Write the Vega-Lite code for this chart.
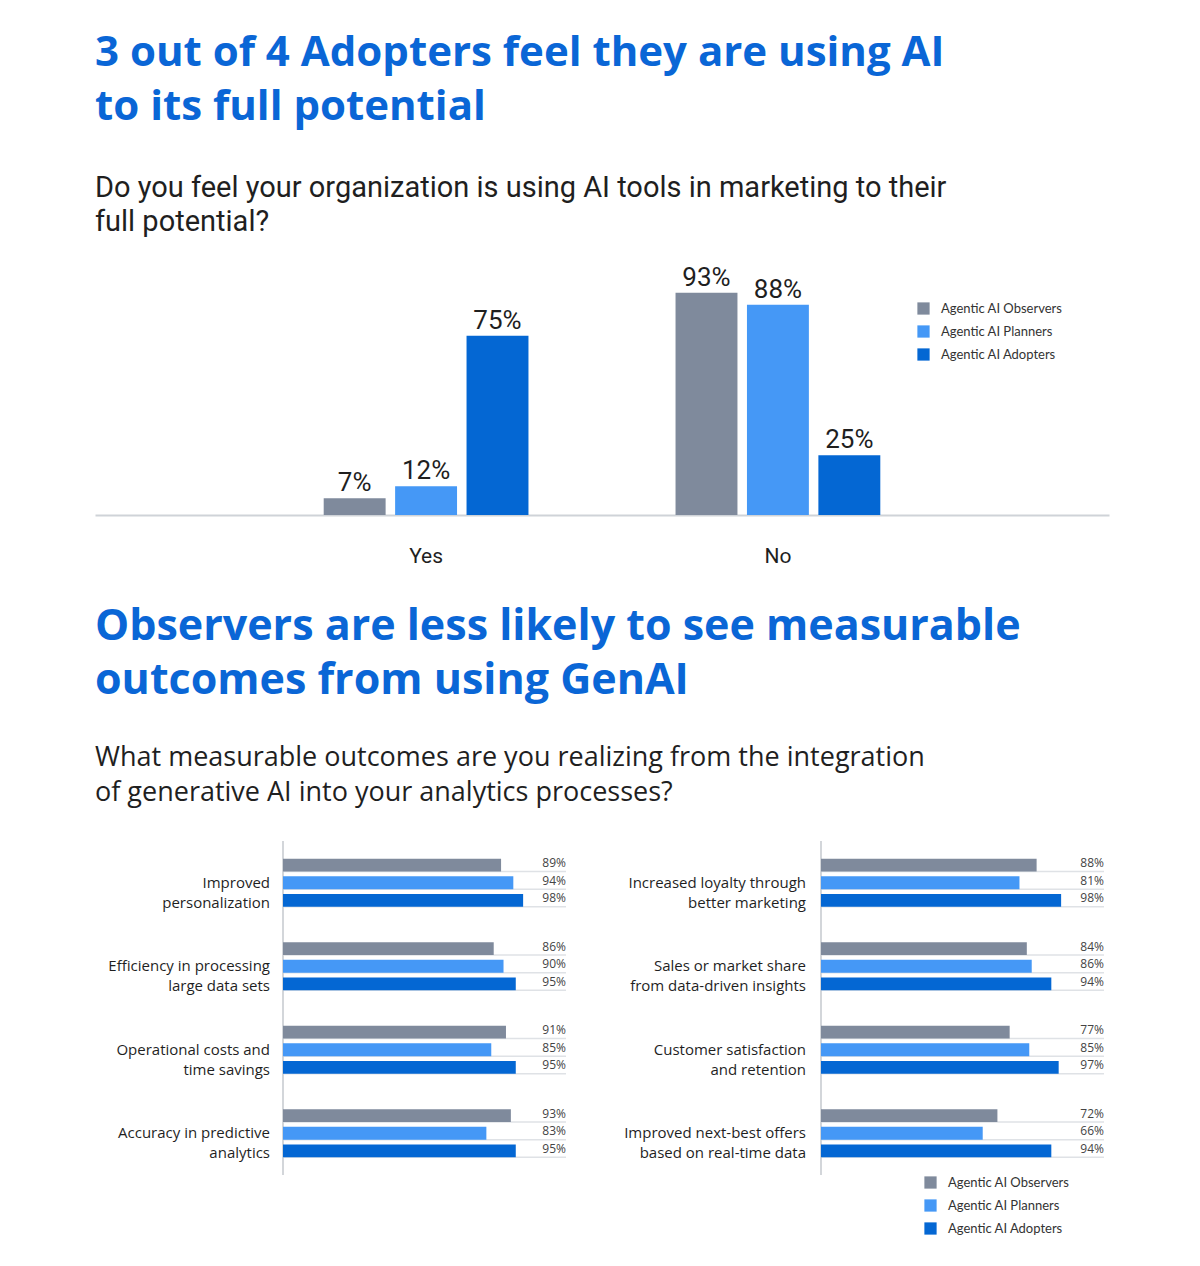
{
  "$schema": "https://vega.github.io/schema/vega-lite/v6.json",
  "background": "white",
  "padding": {"left": 95, "top": 31, "right": 10, "bottom": 10},
  "config": {
    "view": {"stroke": null},
    "font": "Roboto",
    "legend": {
      "title": null,
      "symbolType": "square",
      "symbolSize": 150,
      "symbolStrokeWidth": 0,
      "symbolOpacity": 1,
      "labelFont": "Lato",
      "labelFontSize": 13,
      "labelColor": "#333333",
      "labelOffset": 11,
      "rowPadding": 9
    }
  },
  "datasets": {
    "potential": [
      {"answer": "Yes", "segment": "Agentic AI Observers", "pct": 0.07},
      {"answer": "Yes", "segment": "Agentic AI Planners", "pct": 0.12},
      {"answer": "Yes", "segment": "Agentic AI Adopters", "pct": 0.75},
      {"answer": "No", "segment": "Agentic AI Observers", "pct": 0.93},
      {"answer": "No", "segment": "Agentic AI Planners", "pct": 0.88},
      {"answer": "No", "segment": "Agentic AI Adopters", "pct": 0.25}
    ],
    "outcomes_a": [
      {"outcome": "Improved|personalization", "segment": "Agentic AI Observers", "pct": 0.89},
      {"outcome": "Improved|personalization", "segment": "Agentic AI Planners", "pct": 0.94},
      {"outcome": "Improved|personalization", "segment": "Agentic AI Adopters", "pct": 0.98},
      {"outcome": "Efficiency in processing|large data sets", "segment": "Agentic AI Observers", "pct": 0.86},
      {"outcome": "Efficiency in processing|large data sets", "segment": "Agentic AI Planners", "pct": 0.90},
      {"outcome": "Efficiency in processing|large data sets", "segment": "Agentic AI Adopters", "pct": 0.95},
      {"outcome": "Operational costs and|time savings", "segment": "Agentic AI Observers", "pct": 0.91},
      {"outcome": "Operational costs and|time savings", "segment": "Agentic AI Planners", "pct": 0.85},
      {"outcome": "Operational costs and|time savings", "segment": "Agentic AI Adopters", "pct": 0.95},
      {"outcome": "Accuracy in predictive|analytics", "segment": "Agentic AI Observers", "pct": 0.93},
      {"outcome": "Accuracy in predictive|analytics", "segment": "Agentic AI Planners", "pct": 0.83},
      {"outcome": "Accuracy in predictive|analytics", "segment": "Agentic AI Adopters", "pct": 0.95}
    ],
    "outcomes_b": [
      {"outcome": "Increased loyalty through|better marketing", "segment": "Agentic AI Observers", "pct": 0.88},
      {"outcome": "Increased loyalty through|better marketing", "segment": "Agentic AI Planners", "pct": 0.81},
      {"outcome": "Increased loyalty through|better marketing", "segment": "Agentic AI Adopters", "pct": 0.98},
      {"outcome": "Sales or market share|from data-driven insights", "segment": "Agentic AI Observers", "pct": 0.84},
      {"outcome": "Sales or market share|from data-driven insights", "segment": "Agentic AI Planners", "pct": 0.86},
      {"outcome": "Sales or market share|from data-driven insights", "segment": "Agentic AI Adopters", "pct": 0.94},
      {"outcome": "Customer satisfaction|and retention", "segment": "Agentic AI Observers", "pct": 0.77},
      {"outcome": "Customer satisfaction|and retention", "segment": "Agentic AI Planners", "pct": 0.85},
      {"outcome": "Customer satisfaction|and retention", "segment": "Agentic AI Adopters", "pct": 0.97},
      {"outcome": "Improved next-best offers|based on real-time data", "segment": "Agentic AI Observers", "pct": 0.72},
      {"outcome": "Improved next-best offers|based on real-time data", "segment": "Agentic AI Planners", "pct": 0.66},
      {"outcome": "Improved next-best offers|based on real-time data", "segment": "Agentic AI Adopters", "pct": 0.94}
    ]
  },
  "resolve": {"scale": {"color": "independent"}},
  "spacing": 40,
  "vconcat": [
    {
      "title": {
        "text": ["3 out of 4 Adopters feel they are using AI", "to its full potential"],
        "subtitle": ["Do you feel your organization is using AI tools in marketing to their", "full potential?"],
        "anchor": "start",
        "frame": "group",
        "font": "Open Sans",
        "fontSize": 42,
        "fontWeight": "bold",
        "color": "#0a66d6",
        "lineHeight": 54,
        "subtitleFont": "Roboto",
        "subtitleFontSize": 29,
        "subtitleColor": "#1f1f1f",
        "subtitleLineHeight": 34,
        "subtitlePadding": 45,
        "offset": 27
      },
      "width": 1014,
      "height": 239,
      "data": {"name": "potential"},
      "encoding": {
        "x": {
          "field": "answer",
          "type": "nominal",
          "sort": ["Yes", "No"],
          "scale": {"paddingInner": 0.418, "paddingOuter": 0.65},
          "axis": {
            "title": null,
            "labelAngle": 0,
            "ticks": false,
            "domainColor": "#cfd3d8",
            "domainWidth": 2,
            "labelFont": "Roboto",
            "labelFontSize": 21,
            "labelColor": "#1f1f1f",
            "labelPadding": 30
          }
        },
        "xOffset": {
          "field": "segment",
          "sort": ["Agentic AI Observers", "Agentic AI Planners", "Agentic AI Adopters"],
          "scale": {"paddingInner": 0.133, "paddingOuter": 0}
        },
        "y": {
          "field": "pct",
          "type": "quantitative",
          "scale": {"domain": [0, 1], "nice": false},
          "axis": null
        }
      },
      "layer": [
        {
          "mark": {"type": "bar"},
          "encoding": {
            "color": {
              "field": "segment",
              "type": "nominal",
              "scale": {
                "domain": ["Agentic AI Observers", "Agentic AI Planners", "Agentic AI Adopters"],
                "range": ["#7f8a9c", "#4598f6", "#0467d3"]
              },
              "legend": {"orient": "none", "legendX": 822, "legendY": 26}
            }
          }
        },
        {
          "mark": {"type": "text", "baseline": "alphabetic", "dy": -7, "font": "Roboto", "fontSize": 26, "color": "#1f1f1f"},
          "encoding": {
            "text": {"field": "pct", "type": "quantitative", "format": ".0%"}
          }
        }
      ]
    },
    {
      "title": {
        "text": ["Observers are less likely to see measurable", "outcomes from using GenAI"],
        "subtitle": ["What measurable outcomes are you realizing from the integration", "of generative AI into your analytics processes?"],
        "anchor": "start",
        "frame": "group",
        "font": "Open Sans",
        "fontSize": 43,
        "fontWeight": "bold",
        "color": "#0a66d6",
        "lineHeight": 54,
        "subtitleFont": "Open Sans",
        "subtitleFontSize": 27,
        "subtitleColor": "#1f1f1f",
        "subtitleLineHeight": 35,
        "subtitlePadding": 42,
        "offset": 34
      },
      "resolve": {"scale": {"color": "independent"}},
      "spacing": 57,
      "hconcat": [
        {
          "width": 471,
          "height": 334,
          "data": {"name": "outcomes_a"},
          "layer": [
            {
              "mark": {"type": "bar", "fillOpacity": 0, "stroke": "#dfe2e6", "strokeWidth": 1.5, "strokeDash": [0, 295.84, 283, 12.84]},
              "encoding": {
                "x": {"datum": 1.155, "type": "quantitative", "scale": {"domain": [-0.7673, 1.155], "nice": false, "zero": false}, "axis": null},
                "x2": {"datum": 0},
                "y": {"field": "outcome", "type": "nominal", "sort": null, "scale": {"paddingInner": 0.425, "paddingOuter": 0.2125}, "axis": null},
                "yOffset": {"field": "segment", "sort": ["Agentic AI Observers", "Agentic AI Planners", "Agentic AI Adopters"], "scale": {"paddingInner": 0.27, "paddingOuter": 0}}
              }
            },
            {
              "data": {"values": [{}]},
              "mark": {"type": "rule", "color": "#d3d6da", "strokeWidth": 2},
              "encoding": {
                "x": {"datum": 0, "type": "quantitative", "scale": {"domain": [-0.7673, 1.155], "nice": false, "zero": false}, "axis": null}
              }
            },
            {
              "mark": {"type": "bar"},
              "encoding": {
                "x": {"field": "pct", "type": "quantitative", "scale": {"domain": [-0.7673, 1.155], "nice": false, "zero": false}, "axis": null},
                "x2": {"datum": 0},
                "y": {"field": "outcome", "type": "nominal", "sort": null, "axis": null},
                "yOffset": {"field": "segment", "sort": ["Agentic AI Observers", "Agentic AI Planners", "Agentic AI Adopters"]},
                "color": {
                  "field": "segment",
                  "type": "nominal",
                  "scale": {
                    "domain": ["Agentic AI Observers", "Agentic AI Planners", "Agentic AI Adopters"],
                    "range": ["#7f8a9c", "#4598f6", "#0467d3"]
                  },
                  "legend": null
                }
              }
            },
            {
              "mark": {"type": "text", "align": "right", "dy": -2, "font": "Open Sans", "fontSize": 12, "color": "#444444"},
              "encoding": {
                "x": {"datum": 1.155, "type": "quantitative", "axis": null},
                "y": {"field": "outcome", "type": "nominal", "sort": null, "axis": null},
                "yOffset": {"field": "segment", "sort": ["Agentic AI Observers", "Agentic AI Planners", "Agentic AI Adopters"]},
                "text": {"field": "pct", "type": "quantitative", "format": ".0%"}
              }
            },
            {
              "transform": [{"filter": "datum.segment === 'Agentic AI Observers'"}],
              "mark": {"type": "text", "align": "right", "dx": -13, "lineBreak": "|", "lineHeight": 20, "font": "Open Sans", "fontSize": 15, "color": "#1f1f1f"},
              "encoding": {
                "x": {"datum": 0, "type": "quantitative", "axis": null},
                "y": {"field": "outcome", "type": "nominal", "sort": null, "axis": null},
                "text": {"field": "outcome"}
              }
            }
          ]
        },
        {
          "width": 471,
          "height": 334,
          "data": {"name": "outcomes_b"},
          "layer": [
            {
              "mark": {"type": "bar", "fillOpacity": 0, "stroke": "#dfe2e6", "strokeWidth": 1.5, "strokeDash": [0, 295.84, 283, 12.84]},
              "encoding": {
                "x": {"datum": 1.155, "type": "quantitative", "scale": {"domain": [-0.7673, 1.155], "nice": false, "zero": false}, "axis": null},
                "x2": {"datum": 0},
                "y": {"field": "outcome", "type": "nominal", "sort": null, "scale": {"paddingInner": 0.425, "paddingOuter": 0.2125}, "axis": null},
                "yOffset": {"field": "segment", "sort": ["Agentic AI Observers", "Agentic AI Planners", "Agentic AI Adopters"], "scale": {"paddingInner": 0.27, "paddingOuter": 0}}
              }
            },
            {
              "data": {"values": [{}]},
              "mark": {"type": "rule", "color": "#d3d6da", "strokeWidth": 2},
              "encoding": {
                "x": {"datum": 0, "type": "quantitative", "scale": {"domain": [-0.7673, 1.155], "nice": false, "zero": false}, "axis": null}
              }
            },
            {
              "mark": {"type": "bar"},
              "encoding": {
                "x": {"field": "pct", "type": "quantitative", "scale": {"domain": [-0.7673, 1.155], "nice": false, "zero": false}, "axis": null},
                "x2": {"datum": 0},
                "y": {"field": "outcome", "type": "nominal", "sort": null, "axis": null},
                "yOffset": {"field": "segment", "sort": ["Agentic AI Observers", "Agentic AI Planners", "Agentic AI Adopters"]},
                "color": {
                  "field": "segment",
                  "type": "nominal",
                  "scale": {
                    "domain": ["Agentic AI Observers", "Agentic AI Planners", "Agentic AI Adopters"],
                    "range": ["#7f8a9c", "#4598f6", "#0467d3"]
                  },
                  "legend": {"orient": "none", "legendX": 291, "legendY": 335}
                }
              }
            },
            {
              "mark": {"type": "text", "align": "right", "dy": -2, "font": "Open Sans", "fontSize": 12, "color": "#444444"},
              "encoding": {
                "x": {"datum": 1.155, "type": "quantitative", "axis": null},
                "y": {"field": "outcome", "type": "nominal", "sort": null, "axis": null},
                "yOffset": {"field": "segment", "sort": ["Agentic AI Observers", "Agentic AI Planners", "Agentic AI Adopters"]},
                "text": {"field": "pct", "type": "quantitative", "format": ".0%"}
              }
            },
            {
              "transform": [{"filter": "datum.segment === 'Agentic AI Observers'"}],
              "mark": {"type": "text", "align": "right", "dx": -15, "lineBreak": "|", "lineHeight": 20, "font": "Open Sans", "fontSize": 15, "color": "#1f1f1f"},
              "encoding": {
                "x": {"datum": 0, "type": "quantitative", "axis": null},
                "y": {"field": "outcome", "type": "nominal", "sort": null, "axis": null},
                "text": {"field": "outcome"}
              }
            }
          ]
        }
      ]
    }
  ]
}
